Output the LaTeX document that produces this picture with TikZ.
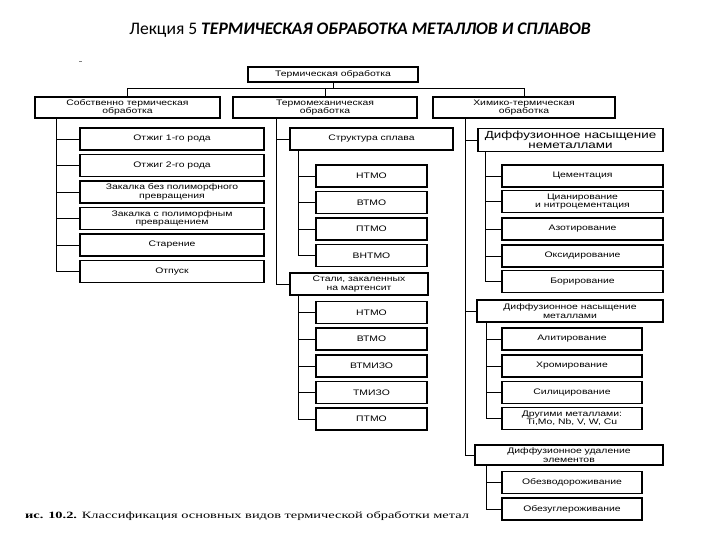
\documentclass[tikz,border=0pt]{standalone}
\usepackage{fontspec}
\setmainfont{Liberation Sans}
\newfontfamily\boxfont[FakeStretch=1.3]{Liberation Sans}
\newfontfamily\titlefont{Carlito}
\newfontfamily\capfont[FakeStretch=1.5]{Liberation Serif}
\begin{document}
\begin{tikzpicture}[x=1pt,y=-1pt,
  bx/.style={draw, line width=1.2pt, inner sep=0pt, align=center,
    font=\boxfont\fontsize{8}{8.5}\selectfont},
  bxbig/.style={bx, font=\boxfont\fontsize{10.3}{10}\selectfont},
  ln/.style={line width=0.7pt}]
\useasboundingbox (0,0) rectangle (720,540);
\fill[white] (0,0) rectangle (720,540);

% title
\node[font=\titlefont\fontsize{17.6}{17.6}\selectfont] (title) at (360,30)
  {Лекция 5 \textbf{\textit{ТЕРМИЧЕСКАЯ ОБРАБОТКА МЕТАЛЛОВ И СПЛАВОВ}}};
\draw[line width=0.5pt, gray] (79,61) -- (81.5,61);

% top level
\node[bx, minimum width=170pt, minimum height=15pt] (T0) at (333,74.5) {Термическая обработка};
\node[bx, minimum width=185pt, minimum height=21pt] (A) at (127.5,107.5) {Собственно термическая\\обработка};
\node[bx, minimum width=184pt, minimum height=21pt] (B) at (325,107.5) {Термомеханическая\\обработка};
\node[bx, minimum width=182pt, minimum height=21pt] (C) at (524,107.5) {Химико-термическая\\обработка};

\coordinate (bus) at (0,88);
\draw[ln] (T0.south) -- (T0.south |- bus);
\draw[ln] (A.north) -- (A.north |- bus) -- (C.north |- bus) -- (C.north);
\draw[ln] (B.north) -- (B.north |- bus);

% left column
\begin{scope}[every node/.append style={bx, minimum width=184pt, minimum height=22pt}]
\node (L1) at (172,139) {Отжиг 1-го рода};
\node (L2) at (172,165.5) {Отжиг 2-го рода};
\node (L3) at (172,192) {Закалка без полиморфного\\превращения};
\node (L4) at (172,218.5) {Закалка с полиморфным\\превращением};
\node (L5) at (172,245) {Старение};
\node (L6) at (172,271.5) {Отпуск};
\end{scope}
\coordinate (ta) at (56,0);
\draw[ln] (ta |- A.south) |- (L6.west);
\foreach \n in {L1,L2,L3,L4,L5} \draw[ln] (ta |- \n.west) -- (\n.west);

% middle column
\node[bx, minimum width=163pt, minimum height=22pt] (S1) at (371.5,139) {Структура сплава};
\node[bx, minimum width=138pt, minimum height=22pt] (S2) at (359,284) {Стали, закаленных\\на мартенсит};
\begin{scope}[every node/.append style={bx, minimum width=111pt, minimum height=22pt}]
\node (S1a) at (371.5,176) {НТМО};
\node (S1b) at (371.5,202.5) {ВТМО};
\node (S1c) at (371.5,229) {ПТМО};
\node (S1d) at (371.5,255.5) {ВНТМО};
\node (S2a) at (371.5,312.5) {НТМО};
\node (S2b) at (371.5,339) {ВТМО};
\node (S2c) at (371.5,366) {ВТМИЗО};
\node (S2d) at (371.5,392.5) {ТМИЗО};
\node (S2e) at (371.5,419) {ПТМО};
\end{scope}
\coordinate (tb) at (276,0);
\draw[ln] (tb |- B.south) |- (S2.west);
\draw[ln] (tb |- S1.west) -- (S1.west);
\coordinate (tb2) at (298,0);
\draw[ln] (tb2 |- S1.south) |- (S1d.west);
\foreach \n in {S1a,S1b,S1c} \draw[ln] (tb2 |- \n.west) -- (\n.west);
\draw[ln] (tb2 |- S2.south) |- (S2e.west);
\foreach \n in {S2a,S2b,S2c,S2d} \draw[ln] (tb2 |- \n.west) -- (\n.west);

% right column
\node[bxbig, minimum width=185pt, minimum height=23pt] (R1) at (570.5,140) {Диффузионное насыщение\\неметаллами};
\node[bx, minimum width=186pt, minimum height=22pt] (R2) at (570,311) {Диффузионное насыщение\\металлами};
\node[bx, minimum width=188pt, minimum height=20pt] (R3) at (569,455) {Диффузионное удаление\\элементов};
\begin{scope}[every node/.append style={bx, minimum width=161pt, minimum height=22pt}]
\node (R1a) at (582.5,176) {Цементация};
\node (R1b) at (582.5,201.5) {Цианирование\\и нитроцементация};
\node (R1c) at (582.5,229) {Азотирование};
\node (R1d) at (582.5,256) {Оксидирование};
\node (R1e) at (582.5,281.5) {Борирование};
\end{scope}
\begin{scope}[every node/.append style={bx, minimum width=140pt, minimum height=22pt}]
\node (R2a) at (572,339) {Алитирование};
\node (R2b) at (572,366) {Хромирование};
\node (R2c) at (572,392.5) {Силицирование};
\node (R2d) at (572,418.5) {Другими металлами:\\Ti,Mo, Nb, V, W, Cu};
\node (R3a) at (572,482.5) {Обезводороживание};
\node (R3b) at (572,509) {Обезуглероживание};
\end{scope}
\coordinate (tc) at (465,0);
\draw[ln] (tc |- C.south) |- (R3.west);
\draw[ln] (tc |- R1.west) -- (R1.west);
\draw[ln] (tc |- R2.west) -- (R2.west);
\coordinate (tc2) at (485,0);
\draw[ln] (tc2 |- R1.south) |- (R1e.west);
\foreach \n in {R1a,R1b,R1c,R1d} \draw[ln] (tc2 |- \n.west) -- (\n.west);
\coordinate (tc3) at (486,0);
\draw[ln] (tc3 |- R2.south) |- (R2d.west);
\foreach \n in {R2a,R2b,R2c} \draw[ln] (tc3 |- \n.west) -- (\n.west);
\draw[ln] (tc3 |- R3.south) |- (R3b.west);
\draw[ln] (tc3 |- R3a.west) -- (R3a.west);

% caption
\node[anchor=base west, inner sep=0pt, font=\capfont\fontsize{9.6}{9.6}\selectfont] (cap) at (25,518)
  {\textbf{ис. 10.2.} Классификация основных видов термической обработки метал};
\end{tikzpicture}
\end{document}
